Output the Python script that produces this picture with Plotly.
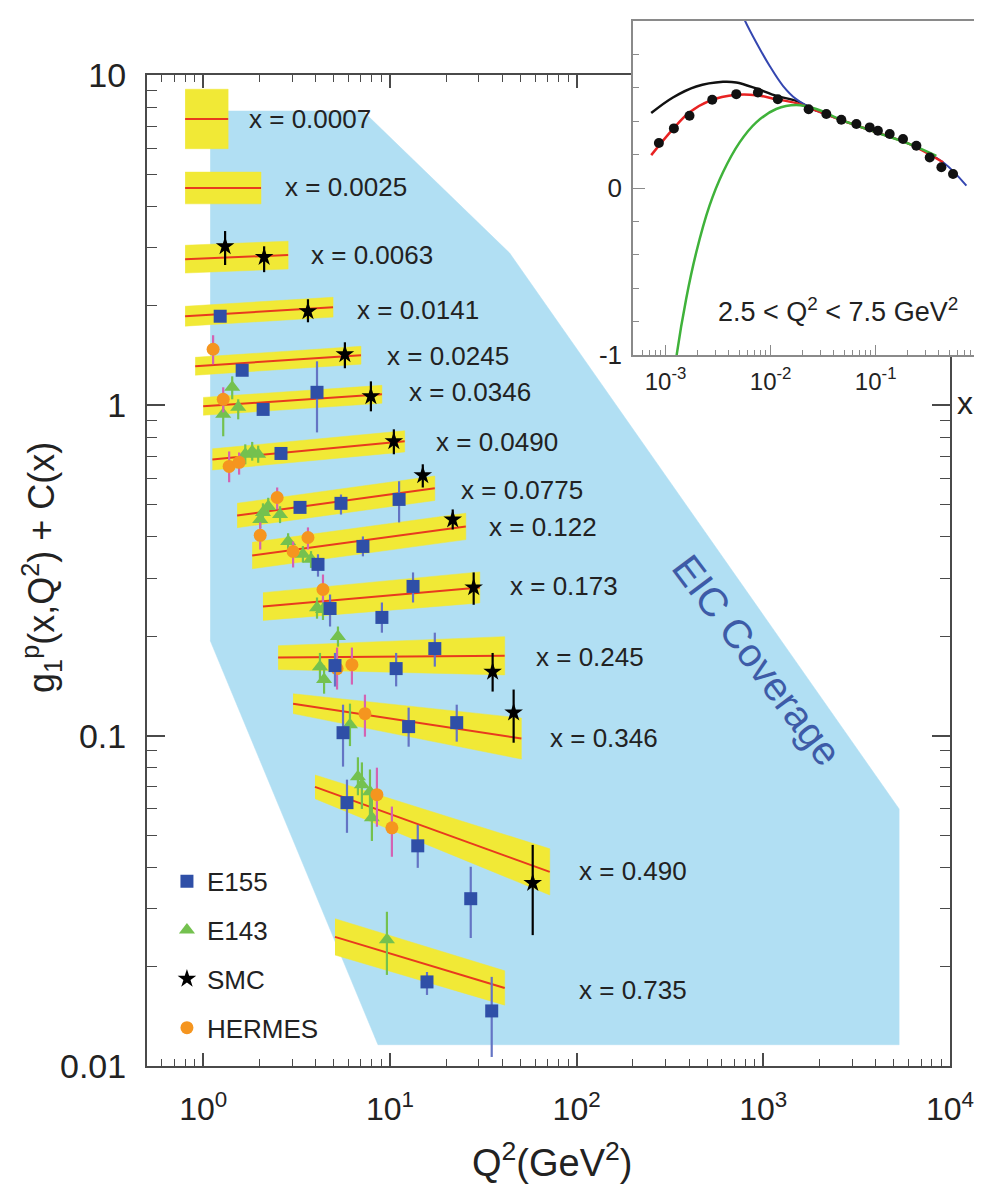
import numpy as np
import plotly.graph_objects as go

# ---------------- main panel data ----------------
# EIC coverage region (Q^2, g1 + C)
eic_q = [1.09, 7.17, 43.8, 5340, 5340, 8.63, 1.09]
eic_y = [7.78, 7.78, 2.89, 0.060, 0.0116, 0.0116, 0.194]

# x bins: fit bands
bin_labels = ["0.0007", "0.0025", "0.0063", "0.0141", "0.0245", "0.0346", "0.0490",
              "0.0775", "0.122", "0.173", "0.245", "0.346", "0.490", "0.735"]
band_q_lo = [0.80, 0.80, 0.80, 0.80, 0.906, 1.0, 1.12, 1.52, 1.83, 2.09, 2.52, 3.03, 3.97, 5.08]
band_q_hi = [1.36, 2.04, 2.85, 4.96, 7.0, 9.06, 12.0, 17.4, 25.5, 30.3, 41.2, 50.6, 71.8, 41.2]
fit_y_lo = [7.36, 4.55, 2.77, 1.861, 1.313, 0.993, 0.686, 0.464, 0.351, 0.246, 0.1723, 0.125, 0.070, 0.0246]
fit_y_hi = [7.36, 4.55, 2.85, 1.982, 1.418, 1.08, 0.778, 0.561, 0.43, 0.281, 0.1745, 0.098, 0.0387, 0.01723]
# band half-width (log10 units) at low / high Q^2 end
band_w_lo = [0.09, 0.048, 0.042, 0.03, 0.027, 0.027, 0.032, 0.037, 0.04, 0.042, 0.036, 0.03, 0.036, 0.055]
band_w_hi = [0.09, 0.048, 0.042, 0.03, 0.027, 0.027, 0.032, 0.037, 0.04, 0.047, 0.058, 0.062, 0.07, 0.052]
# label anchor (Q^2, value) for "x = ..." labels
label_q = [1.72, 2.68, 3.69, 6.50, 9.40, 12.3, 17.2, 23.4, 33.0, 42.8, 58.9, 70.0, 100.0, 100.0]
label_y = [7.36, 4.58, 2.85, 1.94, 1.41, 1.095, 0.772, 0.553, 0.427, 0.283, 0.1735, 0.0986, 0.039, 0.017]

# E155
e155_q = [1.233, 1.617, 2.094, 4.07, 2.61, 3.30, 5.47, 11.2, 4.12, 7.17, 4.78, 9.06, 13.3,
          5.08, 10.8, 17.4, 5.61, 12.6, 22.8, 5.89, 14.1, 27.1, 15.8, 35.1]
e155_y = [1.861, 1.277, 0.972, 1.095, 0.715, 0.491, 0.505, 0.519, 0.330, 0.374, 0.2426, 0.228, 0.283,
          0.163, 0.1596, 0.1835, 0.1021, 0.1065, 0.1095, 0.0627, 0.0464, 0.0321, 0.01797, 0.01468]
e155_top = [1.92, 1.32, 1.0, 1.359, 0.735, 0.51, 0.537, 0.589, 0.354, 0.401, 0.2675, 0.253, 0.312,
            0.178, 0.178, 0.205, 0.1241, 0.1216, 0.1241, 0.0736, 0.0537, 0.0401, 0.01926, 0.01861]
e155_bot = [1.80, 1.24, 0.945, 0.828, 0.695, 0.475, 0.467, 0.442, 0.303, 0.349, 0.214, 0.205, 0.253,
            0.1408, 0.141, 0.1618, 0.0806, 0.0926, 0.0959, 0.0508, 0.0398, 0.0244, 0.01641, 0.01065]

# E143
e143_q = [1.43, 1.28, 1.54, 1.68, 1.83, 1.97, 2.09, 2.23, 2.58, 2.02, 2.85, 3.42, 3.78, 4.07, 4.38,
          5.27, 4.22, 4.44, 6.11, 6.74, 7.08, 7.82, 8.01, 9.64]
e143_y = [1.134, 0.939, 0.986, 0.711, 0.725, 0.711, 0.474, 0.494, 0.467, 0.451, 0.387, 0.354, 0.342,
          0.244, 0.241, 0.1995, 0.1618, 0.1478, 0.108, 0.0751, 0.0710, 0.0677, 0.0564, 0.0241]
e143_top = [1.224, 1.021, 1.043, 0.762, 0.775, 0.755, 0.505, 0.525, 0.495, 0.48, 0.41, 0.375, 0.362,
            0.262, 0.26, 0.214, 0.178, 0.163, 0.125, 0.086, 0.083, 0.079, 0.066, 0.0293]
e143_bot = [1.043, 0.806, 0.907, 0.663, 0.68, 0.67, 0.445, 0.465, 0.44, 0.425, 0.365, 0.334, 0.322,
            0.226, 0.224, 0.186, 0.147, 0.134, 0.093, 0.066, 0.06, 0.057, 0.048, 0.01887]

# SMC
smc_q = [1.31, 2.12, 3.64, 5.74, 7.91, 10.5, 15.0, 21.7, 28.1, 35.5, 46.0, 58.2]
smc_y = [3.03, 2.81, 1.927, 1.427, 1.065, 0.778, 0.614, 0.451, 0.281, 0.156, 0.1174, 0.0358]
smc_top = [3.37, 3.03, 2.095, 1.552, 1.182, 0.846, 0.663, 0.484, 0.312, 0.178, 0.1379, 0.0467]
smc_bot = [2.66, 2.53, 1.784, 1.295, 0.959, 0.711, 0.564, 0.421, 0.249, 0.136, 0.0952, 0.0249]

# HERMES
her_q = [1.13, 1.28, 1.377, 1.557, 2.49, 2.02, 3.03, 3.64, 4.38, 5.21, 6.26, 7.35, 8.52, 10.25]
her_y = [1.478, 1.043, 0.653, 0.672, 0.526, 0.404, 0.361, 0.398, 0.277, 0.1596, 0.164, 0.1166, 0.0663, 0.0526]
her_top = [1.630, 1.134, 0.725, 0.72, 0.564, 0.442, 0.387, 0.427, 0.3075, 0.1848, 0.1848, 0.1331, 0.080, 0.061]
her_bot = [1.331, 0.952, 0.585, 0.617, 0.484, 0.366, 0.323, 0.366, 0.253, 0.1379, 0.1428, 0.0993, 0.053, 0.043]

main_xtick_vals = [1, 10, 100, 1000, 10000]
main_xtick_text = ["10<sup>0</sup>", "10<sup>1</sup>", "10<sup>2</sup>", "10<sup>3</sup>", "10<sup>4</sup>"]
main_ytick_vals = [0.01, 0.1, 1, 10]
main_ytick_text = ["0.01", "0.1", "1", "10"]

# ---------------- inset data (2.5 < Q^2 < 7.5) ----------------
ins_pts_x = [8.64e-4, 1.20e-3, 1.69e-3, 2.78e-3, 4.71e-3, 7.57e-3, 1.17e-2, 2.30e-2, 3.39e-2, 4.71e-2,
             6.55e-2, 8.77e-2, 0.105, 0.136, 0.182, 0.244, 0.327, 0.422, 0.545]
ins_pts_y = [0.269, 0.357, 0.433, 0.528, 0.562, 0.572, 0.532, 0.472, 0.443, 0.409,
             0.383, 0.363, 0.343, 0.323, 0.293, 0.253, 0.183, 0.124, 0.084]
black_x = [7.30e-4, 1.175e-3, 1.96e-3, 3.52e-3, 4.71e-3, 7.30e-3, 1.13e-2, 1.75e-2, 2.35e-2, 2.72e-2]
black_y = [0.449, 0.542, 0.608, 0.636, 0.632, 0.596, 0.552, 0.522, 0.483, 0.463]
red_x = [7.30e-4, 1.175e-3, 1.693e-3, 2.62e-3, 4.71e-3, 7.30e-3, 1.13e-2, 1.75e-2, 2.72e-2, 4.89e-2,
         0.1015, 0.211, 0.438]
red_y = [0.197, 0.353, 0.453, 0.522, 0.558, 0.556, 0.532, 0.508, 0.463, 0.403, 0.333, 0.263, 0.154]
blue_x = [5.3e-3, 5.65e-3, 7.30e-3, 9.77e-3, 1.31e-2, 1.75e-2, 2.72e-2, 4.89e-2, 0.1015, 0.211, 0.438, 0.73]
blue_y = [1.05, 1.007, 0.871, 0.732, 0.612, 0.532, 0.463, 0.403, 0.333, 0.263, 0.154, 0.014]
green_x = [1.22e-3, 1.28e-3, 1.57e-3, 1.96e-3, 2.62e-3, 3.52e-3, 5.07e-3, 7.30e-3, 1.13e-2, 1.75e-2,
           2.72e-2, 4.89e-2, 0.1015, 0.211, 0.378]
green_y = [-1.1, -0.993, -0.664, -0.385, -0.106, 0.094, 0.273, 0.393, 0.473, 0.497,
           0.473, 0.403, 0.333, 0.263, 0.193]
ins_xtick_vals = [1e-3, 1e-2, 1e-1]
ins_xtick_text = ["10<sup>-3</sup>", "10<sup>-2</sup>", "10<sup>-1</sup>"]
ins_ytick_vals = [-1, 0, 1]
ins_ytick_text = ["-1", "0", "1"]

# ---------------- styles ----------------
FONT = "Liberation Sans, Arial, Helvetica, sans-serif"
EIC_COL = "#b1dff3"
BAND_COL = "#f1e936"
FIT_COL = "#e83a1e"
AX_COL = "#4a4a4a"
TXT = "#222222"

fig = go.Figure()

fig.add_trace(go.Scatter(x=eic_q, y=eic_y, mode="lines", fill="toself", fillcolor=EIC_COL,
                         line=dict(color=EIC_COL, width=0.5), showlegend=False, hoverinfo="skip"))

for i in range(len(bin_labels)):
    qs = [band_q_lo[i], band_q_hi[i], band_q_hi[i], band_q_lo[i]]
    ys = [fit_y_lo[i] * 10 ** band_w_lo[i], fit_y_hi[i] * 10 ** band_w_hi[i],
          fit_y_hi[i] / 10 ** band_w_hi[i], fit_y_lo[i] / 10 ** band_w_lo[i]]
    fig.add_trace(go.Scatter(x=qs, y=ys, mode="lines", fill="toself", fillcolor=BAND_COL,
                             line=dict(color=BAND_COL, width=0.5), showlegend=False, hoverinfo="skip"))
    fig.add_trace(go.Scatter(x=[band_q_lo[i], band_q_hi[i]], y=[fit_y_lo[i], fit_y_hi[i]], mode="lines",
                             line=dict(color=FIT_COL, width=2), showlegend=False, hoverinfo="skip"))


def errs(y, top, bot):
    y = np.array(y); top = np.array(top); bot = np.array(bot)
    return (top - y).tolist(), (y - bot).tolist()


def data_trace(name, q, y, top, bot, symbol, color, ecolor, size, rank):
    up, dn = errs(y, top, bot)
    return go.Scatter(x=q, y=y, mode="markers", name=name, legendrank=rank, legendgroup=name,
                      marker=dict(symbol=symbol, color=color, size=size, line=dict(width=0)),
                      error_y=dict(type="data", symmetric=False, array=up, arrayminus=dn,
                                   color=ecolor, thickness=2.2, width=0))


fig.add_trace(data_trace("E143", e143_q, e143_y, e143_top, e143_bot, "triangle-up", "#74c14f", "#74c14f", 14, 2))
fig.add_trace(data_trace("HERMES", her_q, her_y, her_top, her_bot, "circle", "#f5951f", "#d363b3", 13, 4))
fig.add_trace(data_trace("E155", e155_q, e155_y, e155_top, e155_bot, "square", "#2f4fa7", "#6474c4", 13, 1))
fig.add_trace(data_trace("SMC", smc_q, smc_y, smc_top, smc_bot, "star", "#000000", "#000000", 14, 3))

# ---------------- inset ----------------
fig.add_trace(go.Scatter(x=[1e-4, 5, 5, 1e-4], y=[-3, -3, 3, 3], mode="lines", fill="toself",
                         fillcolor="white", line=dict(color="white", width=0),
                         xaxis="x2", yaxis="y2", showlegend=False, hoverinfo="skip"))
fig.add_trace(go.Scatter(x=black_x, y=black_y, mode="lines", line=dict(color="#111111", width=2.5, shape="spline"),
                         xaxis="x2", yaxis="y2", showlegend=False))
fig.add_trace(go.Scatter(x=blue_x, y=blue_y, mode="lines", line=dict(color="#3446b0", width=2, shape="spline"),
                         xaxis="x2", yaxis="y2", showlegend=False))
fig.add_trace(go.Scatter(x=red_x, y=red_y, mode="lines", line=dict(color="#e82222", width=2.5, shape="spline"),
                         xaxis="x2", yaxis="y2", showlegend=False))
fig.add_trace(go.Scatter(x=green_x, y=green_y, mode="lines", line=dict(color="#3fb23a", width=2.5, shape="spline"),
                         xaxis="x2", yaxis="y2", showlegend=False))
fig.add_trace(go.Scatter(x=ins_pts_x, y=ins_pts_y, mode="markers", marker=dict(color="#111111", size=10),
                         xaxis="x2", yaxis="y2", showlegend=False))

# ---------------- annotations ----------------
ann = []
for i, lab in enumerate(bin_labels):
    ann.append(dict(x=np.log10(label_q[i]), y=np.log10(label_y[i]), xref="x", yref="y",
                    text=f"x = {lab}", showarrow=False, xanchor="left", yanchor="middle",
                    font=dict(size=26, color=TXT, family=FONT)))
ann.append(dict(x=np.log10(929), y=np.log10(0.17), xref="x", yref="y", text="EIC Coverage",
                showarrow=False, textangle=53, xanchor="center", yanchor="middle",
                font=dict(size=40, color="#3d5ba7", family=FONT)))
ann.append(dict(x=-0.1264, y=0.4771, xref="paper", yref="paper", textangle=-90,
                xanchor="center", yanchor="middle",
                text="g<sub>1</sub><sup>p</sup>(x,Q<sup>2</sup>) + C(x)", showarrow=False,
                font=dict(size=36, color=TXT, family=FONT)))
ann.append(dict(x=0.4874, y=-0.0895, xref="paper", yref="paper", xanchor="center", yanchor="middle",
                text="Q<sup>2</sup>(GeV<sup>2</sup>)", showarrow=False,
                font=dict(size=38, color=TXT, family=FONT)))
ann.append(dict(x=0.8315, y=0.7228, xref="paper", yref="paper", xanchor="center", yanchor="middle",
                text="2.5 &lt; Q<sup>2</sup> &lt; 7.5 GeV<sup>2</sup>", showarrow=False,
                font=dict(size=27, color=TXT, family=FONT)))
ann.append(dict(x=0.9844, y=0.6338, xref="paper", yref="paper", xanchor="center", yanchor="middle",
                text="x", showarrow=False, font=dict(size=32, color=TXT, family=FONT)))

main_minor = dict(ticks="inside", ticklen=7, tickwidth=1.2, tickcolor=AX_COL, dtick="D1", showgrid=False)

# page body has an 8px margin: figure is 974x1178 so that it ends at the window edge
fig.update_layout(
    width=974, height=1178,
    margin=dict(l=139, r=4, t=12, b=120, autoexpand=False),
    paper_bgcolor="white", plot_bgcolor="white",
    font=dict(family=FONT, color=TXT),
    showlegend=True,
    legend=dict(x=0.024, y=0.199, xanchor="left", yanchor="top", bgcolor="rgba(0,0,0,0)",
                font=dict(size=26, color=TXT, family=FONT), tracegroupgap=12, itemsizing="trace"),
    xaxis=dict(type="log", range=[np.log10(0.5), 4], domain=[0, 0.96631], anchor="y", automargin=False,
               showline=True, linecolor=AX_COL, linewidth=2, mirror="ticks",
               ticks="inside", ticklen=13, tickwidth=1.5, tickcolor=AX_COL,
               tickmode="array", tickvals=main_xtick_vals, ticktext=main_xtick_text,
               tickfont=dict(size=32, color=TXT), ticklabelstandoff=14,
               minor=main_minor, showgrid=False, zeroline=False),
    yaxis=dict(type="log", range=[-2, 1], domain=[0, 0.94742], anchor="x", automargin=False,
               showline=True, linecolor=AX_COL, linewidth=2, mirror="ticks",
               ticks="inside", ticklen=18, tickwidth=1.5, tickcolor=AX_COL,
               tickmode="array", tickvals=main_ytick_vals, ticktext=main_ytick_text,
               tickfont=dict(size=34, color=TXT), ticklabelstandoff=12,
               minor=dict(ticks="inside", ticklen=10, tickwidth=1.2, tickcolor=AX_COL, dtick="D1", showgrid=False),
               showgrid=False, zeroline=False),
    xaxis2=dict(type="log", range=[-3.31, -0.026], domain=[0.58484, 1.0], anchor="y2", automargin=False,
                showline=True, linecolor="#8a8a8a", linewidth=1.5, mirror=True,
                ticks="inside", ticklen=10, tickwidth=1, tickcolor="#8a8a8a",
                tickmode="array", tickvals=ins_xtick_vals, ticktext=ins_xtick_text,
                tickfont=dict(size=24, color=TXT), ticklabelstandoff=4,
                minor=dict(ticks="inside", ticklen=5, tickwidth=1, tickcolor="#8a8a8a", dtick="D1", showgrid=False),
                showgrid=False, zeroline=False),
    yaxis2=dict(range=[-1, 1], domain=[0.67973, 0.99904], anchor="x2", automargin=False,
                showline=True, linecolor="#8a8a8a", linewidth=1.5, mirror=True,
                ticks="inside", ticklen=12, tickwidth=1, tickcolor="#8a8a8a",
                tickmode="array", tickvals=ins_ytick_vals, ticktext=ins_ytick_text,
                tickfont=dict(size=26, color=TXT), ticklabelstandoff=4,
                minor=dict(ticks="inside", ticklen=6, tickwidth=1, tickcolor="#8a8a8a", dtick=0.2, tick0=0, showgrid=False),
                showgrid=False, zeroline=False),
    annotations=ann,
)

fig.write_html("out.html")
